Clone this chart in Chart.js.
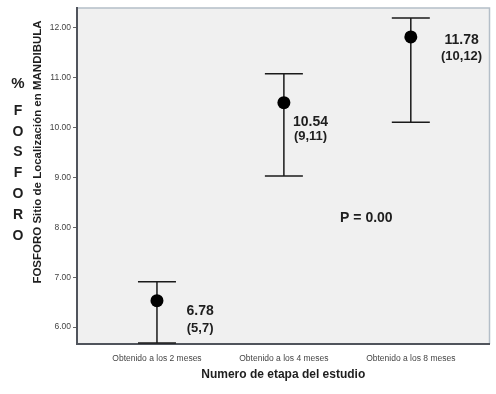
<!DOCTYPE html>
<html>
<head>
<meta charset="utf-8">
<script src="https://cdn.jsdelivr.net/npm/chart.js@4"></script>
<style>
  html, body { margin: 0; padding: 0; background: #fff; }
</style>
</head>
<body>
<canvas id="grafico" width="496" height="394"></canvas>
<script>
// datos
const etapas = ['Obtenido a los 2 meses', 'Obtenido a los 4 meses', 'Obtenido a los 8 meses'];
const posiciones = [1, 2, 3];
const medias = [6.53, 10.50, 11.82];
const limiteSup = [6.91, 11.08, 12.20];
const limiteInf = [5.68, 9.03, 10.11];
const yTicks = [6, 7, 8, 9, 10, 11, 12];
const etiquetaMedia = ['6.78', '10.54', '11.78'];
const etiquetaRango = ['(5,7)', '(9,11)', '(10,12)'];
const textoP = 'P = 0.00';
const tituloY = 'FOSFORO Sitio de Localización en MANDIBULA';
const tituloX = 'Numero de etapa del estudio';

const FUENTE = '"Liberation Sans", Arial, sans-serif';

// donde van los textos de cada punto (en unidades del grafico)
const lugarEtiquetas = [
  {x: 1.34, y: 6.32, y2: 5.98},
  {x: 2.21, y: 10.11, y2: 9.82},
  {x: 3.40, y: 11.76, y2: 11.42}
];
const lugarP = {x: 2.65, y: 8.18};

const extras = {
  id: 'extras',
  beforeDraw(chart) {
    const {ctx, chartArea: a} = chart;
    ctx.save();
    ctx.fillStyle = '#f0f0f0';
    ctx.fillRect(a.left, a.top, a.right - a.left, a.bottom - a.top);
    // borde superior y derecho, mas claro
    ctx.strokeStyle = '#b4bec8';
    ctx.lineWidth = 1.5;
    ctx.beginPath();
    ctx.moveTo(a.left, a.top);
    ctx.lineTo(a.right, a.top);
    ctx.lineTo(a.right, a.bottom);
    ctx.stroke();
    ctx.restore();
  },
  beforeDatasetsDraw(chart) {
    const {ctx, scales: {x, y}} = chart;
    ctx.save();
    ctx.strokeStyle = '#1a1a1a';
    ctx.lineWidth = 1.5;
    posiciones.forEach((p, i) => {
      const px = x.getPixelForValue(p);
      const arriba = y.getPixelForValue(limiteSup[i]);
      const abajo = y.getPixelForValue(limiteInf[i]);
      ctx.beginPath();
      ctx.moveTo(px, arriba); ctx.lineTo(px, abajo);
      ctx.moveTo(px - 19, arriba); ctx.lineTo(px + 19, arriba);
      ctx.moveTo(px - 19, abajo); ctx.lineTo(px + 19, abajo);
      ctx.stroke();
    });
    ctx.restore();
  },
  afterDraw(chart) {
    const {ctx, scales: {x, y}} = chart;
    ctx.save();
    ctx.fillStyle = '#1e1e1e';
    ctx.textAlign = 'center';
    ctx.textBaseline = 'middle';

    etiquetaMedia.forEach((t, i) => {
      const l = lugarEtiquetas[i];
      ctx.font = 'bold 14px ' + FUENTE;
      ctx.fillText(t, x.getPixelForValue(l.x), y.getPixelForValue(l.y));
      ctx.font = 'bold 13px ' + FUENTE;
      ctx.fillText(etiquetaRango[i], x.getPixelForValue(l.x), y.getPixelForValue(l.y2));
    });
    ctx.font = 'bold 14px ' + FUENTE;
    ctx.fillText(textoP, x.getPixelForValue(lugarP.x), y.getPixelForValue(lugarP.y));

    // "%" y letras de FOSFORO a la izquierda
    ctx.font = 'bold 15px ' + FUENTE;
    ctx.fillText('%', 18, 84);
    ctx.font = 'bold 14px ' + FUENTE;
    'FOSFORO'.split('').forEach((c, i) => {
      ctx.fillText(c, 18, 111 + i * 20.8);
    });

    // titulo vertical del eje y
    ctx.font = 'bold 11.5px ' + FUENTE;
    ctx.translate(38, 152);
    ctx.rotate(-Math.PI / 2);
    ctx.fillText(tituloY, 0, 0);
    ctx.restore();
  }
};

const ctx = document.getElementById('grafico').getContext('2d');

new Chart(ctx, {
  type: 'scatter',
  data: {
    datasets: [{
      data: posiciones.map((p, i) => ({x: p, y: medias[i]})),
      backgroundColor: '#000',
      borderWidth: 0,
      pointRadius: 6.5,
      pointHoverRadius: 6.5
    }]
  },
  options: {
    responsive: false,
    animation: false,
    events: [],
    layout: {
      padding: {left: 0, top: 8, right: 4, bottom: 0}
    },
    plugins: {
      legend: {display: false},
      tooltip: {enabled: false}
    },
    scales: {
      x: {
        type: 'linear',
        min: 0.37,
        max: 3.62,
        afterFit: s => { s.height = 50; },
        afterBuildTicks: s => { s.ticks = posiciones.map(v => ({value: v})); },
        grid: {drawOnChartArea: false, drawTicks: false},
        border: {display: true, color: '#50545c', width: 2},
        ticks: {
          padding: 10,
          color: '#444',
          font: {family: FUENTE, size: 8.5},
          maxRotation: 0,
          callback: v => etapas[posiciones.indexOf(v)]
        },
        title: {
          display: true,
          text: tituloX,
          color: '#1e1e1e',
          font: {family: FUENTE, size: 12, weight: 'bold'},
          padding: {top: 0, bottom: 12}
        }
      },
      y: {
        type: 'linear',
        min: 5.66,
        max: 12.4,
        afterFit: s => { s.width = 77; },
        afterBuildTicks: s => { s.ticks = yTicks.map(v => ({value: v})); },
        grid: {drawOnChartArea: false, drawTicks: true, tickLength: 4, color: '#666'},
        border: {display: true, color: '#50545c', width: 2},
        ticks: {
          padding: 2,
          color: '#444',
          font: {family: FUENTE, size: 8.5},
          callback: v => v.toFixed(2)
        }
      }
    }
  },
  plugins: [extras]
});
</script>
</body>
</html>
